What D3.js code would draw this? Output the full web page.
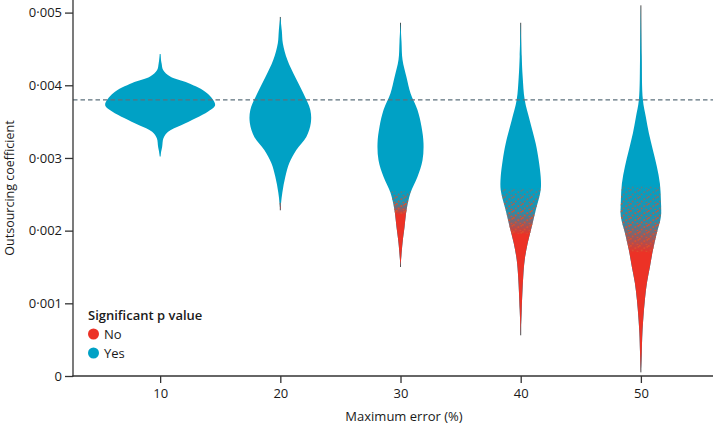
<!DOCTYPE html>
<html>
<head>
<meta charset="utf-8">
<script src="https://cdn.jsdelivr.net/npm/d3@7"></script>
<style>
  html, body { margin: 0; padding: 0; background: #fff; }
  svg { display: block; font-family: "Open Sans", "DejaVu Sans", sans-serif; }
</style>
</head>
<body>
<script>
// ---------- DATA ----------
const categories = [10, 20, 30, 40, 50];          // Maximum error (%)
const yTicks = [0, 0.001, 0.002, 0.003, 0.004, 0.005];
const referenceCoef = 0.0038;                       // dashed reference line

// violin profiles: [outsourcing coefficient, relative density]
const violin10 = [[0.00443,0],[0.00430,0.15],[0.00421,0.3],[0.00412,1.0],[0.00403,2.8],[0.00389,4.7],[0.00373,5.5],[0.00364,4.8],[0.00355,3.6],[0.00345,2.1],[0.00336,0.8],[0.00327,0.33],[0.00315,0.2],[0.00302,0]];
const violin20 = [[0.00494,0],[0.00475,0.15],[0.00458,0.25],[0.00435,0.7],[0.00411,1.5],[0.00389,2.3],[0.00366,3.0],[0.00348,3.05],[0.00329,2.6],[0.00311,1.6],[0.00293,0.9],[0.00274,0.5],[0.00252,0.2],[0.00228,0]];
const violin30 = [[0.00486,0],[0.00460,0.1],[0.00435,0.2],[0.00411,0.6],[0.00389,1.0],[0.00366,1.7],[0.00343,2.1],[0.00320,2.3],[0.00297,2.2],[0.00274,1.7],[0.00252,1.0],[0.00228,0.6],[0.00205,0.4],[0.00183,0.2],[0.00150,0]];
const violin40 = [[0.00486,0],[0.00440,0.1],[0.00411,0.2],[0.00380,0.4],[0.00352,0.9],[0.00320,1.5],[0.00297,1.8],[0.00274,2.0],[0.00256,2.0],[0.00228,1.5],[0.00205,1.1],[0.00183,0.7],[0.00160,0.4],[0.00136,0.25],[0.00091,0.1],[0.00056,0]];
const violin50 = [[0.00510,0],[0.00440,0.08],[0.00380,0.2],[0.00356,0.5],[0.00334,0.8],[0.00311,1.2],[0.00288,1.6],[0.00265,1.9],[0.00242,2.0],[0.00219,2.0],[0.00197,1.6],[0.00173,1.2],[0.00150,0.9],[0.00128,0.6],[0.00105,0.4],[0.00081,0.25],[0.00059,0.15],[0.00030,0.08],[0.00005,0]];
const violins = [violin10, violin20, violin30, violin40, violin50];

// significance: coefficient where non-significant (red) points start, and where all are red
const redStart = [null, 0.00240, 0.00255, 0.00258, 0.00262];
const redFull  = [null, 0.00232, 0.00222, 0.00195, 0.00170];

const legendLabels = ["No", "Yes"];

// ---------- STYLE ----------
const TEAL = "#00a1c5";
const RED = "#ec3226";
const W = 713, H = 425;

const svg = d3.select("body").append("svg").attr("width", W).attr("height", H);
const defs = svg.append("defs");

const x = d3.scaleLinear().domain([2.75, 56]).range([73, 713]);
const y = d3.scaleLinear().domain([0, 0.005]).range([376, 12.6]);
const w = d3.scaleLinear().domain([0, 5.5]).range([0, 55]);

// sparse speckle pattern for the mixed zone
const pat = defs.append("pattern").attr("id", "speckle")
  .attr("patternUnits", "userSpaceOnUse").attr("width", 9).attr("height", 7);
[[0,0],[4.5,2.3],[1.8,4.6],[6.6,5.8],[7.5,1]].forEach(p =>
  pat.append("rect").attr("x", p[0]).attr("y", p[1]).attr("width", 1.7).attr("height", 1.7).attr("fill", "#dc4f2d"));

const gPlot = svg.append("g");

violins.forEach((prof, i) => {
  const cx = x(categories[i]);
  const ext = d3.extent(prof, d => d[0]);
  gPlot.append("line")
    .attr("x1", cx).attr("x2", cx)
    .attr("y1", y(ext[0])).attr("y2", y(ext[1]))
    .attr("stroke", i === 0 ? TEAL : "#3b3b3b").attr("stroke-width", 0.9);

  const area = d3.area()
    .y(d => y(d[0]))
    .x0(d => cx - w(d[1]))
    .x1(d => cx + w(d[1]))
    .curve(d3.curveCatmullRom.alpha(0.5));
  const dPath = area(prof);

  defs.append("clipPath").attr("id", "clip" + i).append("path").attr("d", dPath);

  gPlot.append("path").attr("d", dPath).attr("fill", TEAL);

  if (redStart[i] !== null) {
    const ys = y(redStart[i]), yf = y(redFull[i]);
    const grad = defs.append("linearGradient").attr("id", "rg" + i)
      .attr("gradientUnits", "userSpaceOnUse")
      .attr("x1", 0).attr("x2", 0).attr("y1", ys).attr("y2", yf);
    grad.append("stop").attr("offset", 0).attr("stop-color", RED).attr("stop-opacity", 0);
    grad.append("stop").attr("offset", 0.5).attr("stop-color", RED).attr("stop-opacity", 0.15);
    grad.append("stop").attr("offset", 1).attr("stop-color", RED).attr("stop-opacity", 1);

    const mgrad = defs.append("linearGradient").attr("id", "mg" + i)
      .attr("gradientUnits", "userSpaceOnUse")
      .attr("x1", 0).attr("x2", 0).attr("y1", ys).attr("y2", yf);
    mgrad.append("stop").attr("offset", 0).attr("stop-color", "#fff").attr("stop-opacity", 0.35);
    mgrad.append("stop").attr("offset", 0.6).attr("stop-color", "#fff").attr("stop-opacity", 1);
    mgrad.append("stop").attr("offset", 1).attr("stop-color", "#fff").attr("stop-opacity", 1);
    const mask = defs.append("mask").attr("id", "mask" + i).attr("maskUnits", "userSpaceOnUse")
      .attr("x", 0).attr("y", 0).attr("width", W).attr("height", H);
    mask.append("rect").attr("x", cx - 60).attr("width", 120)
      .attr("y", ys).attr("height", yf - ys).attr("fill", "url(#mg" + i + ")");

    const g = gPlot.append("g").attr("clip-path", "url(#clip" + i + ")");
    g.append("rect").attr("x", cx - 60).attr("width", 120)
      .attr("y", ys).attr("height", y(0) - ys).attr("fill", "url(#rg" + i + ")");
    g.append("rect").attr("x", cx - 60).attr("width", 120)
      .attr("y", ys).attr("height", yf - ys)
      .attr("fill", "url(#speckle)").attr("mask", "url(#mask" + i + ")");
  }
});

// dashed reference line
svg.append("line")
  .attr("x1", x.range()[0]).attr("x2", x.range()[1])
  .attr("y1", y(referenceCoef)).attr("y2", y(referenceCoef))
  .attr("stroke", "#5c707c").attr("stroke-width", 1.2)
  .attr("stroke-dasharray", "4.5,3");

// axes
const fmt = d => d === 0 ? "0" : d3.format(".3f")(d).replace(".", "·");
const yAxis = svg.append("g").attr("transform", `translate(${x.range()[0]},0)`)
  .call(d3.axisLeft(y).tickValues(yTicks).tickFormat(fmt).tickSize(8).tickPadding(3).tickSizeOuter(0));
const xAxis = svg.append("g").attr("transform", `translate(0,${y(0)})`)
  .call(d3.axisBottom(x).tickValues(categories).tickSize(7).tickPadding(6).tickSizeOuter(0));
[yAxis, xAxis].forEach(a => {
  a.select(".domain").remove();
  a.selectAll(".tick line").attr("stroke", "#333").attr("stroke-width", 1.3);
  a.selectAll(".tick text").attr("fill", "#1a1a1a").style("font-size", "13px")
   .style("font-family", '"Open Sans", sans-serif');
});
svg.append("line").attr("x1", x.range()[0]).attr("x2", x.range()[0])
  .attr("y1", 0).attr("y2", y(0) + 0.65).attr("stroke", "#333").attr("stroke-width", 1.3);
svg.append("line").attr("x1", x.range()[0] - 0.65).attr("x2", x.range()[1])
  .attr("y1", y(0)).attr("y2", y(0)).attr("stroke", "#333").attr("stroke-width", 1.3);

// axis titles
svg.append("text").attr("x", 404).attr("y", 421)
  .attr("text-anchor", "middle").attr("fill", "#1a1a1a").style("font-size", "13px")
  .text("Maximum error (%)");
svg.append("text").attr("transform", "translate(14,188) rotate(-90)")
  .attr("text-anchor", "middle").attr("fill", "#1a1a1a").style("font-size", "12.5px")
  .text("Outsourcing coefficient");

// legend
const lg = svg.append("g");
lg.append("text").attr("x", 88).attr("y", 320).attr("fill", "#1a1a1a")
  .style("font-size", "13px").style("font-weight", "600").text("Significant p value");
legendLabels.forEach((lab, i) => {
  const cy = 334 + i * 19;
  lg.append("circle").attr("cx", 93.5).attr("cy", cy).attr("r", 5.5).attr("fill", i === 0 ? RED : TEAL);
  lg.append("text").attr("x", 104).attr("y", cy + 4.5).attr("fill", "#1a1a1a")
    .style("font-size", "13px").text(lab);
});
</script>
</body>
</html>
